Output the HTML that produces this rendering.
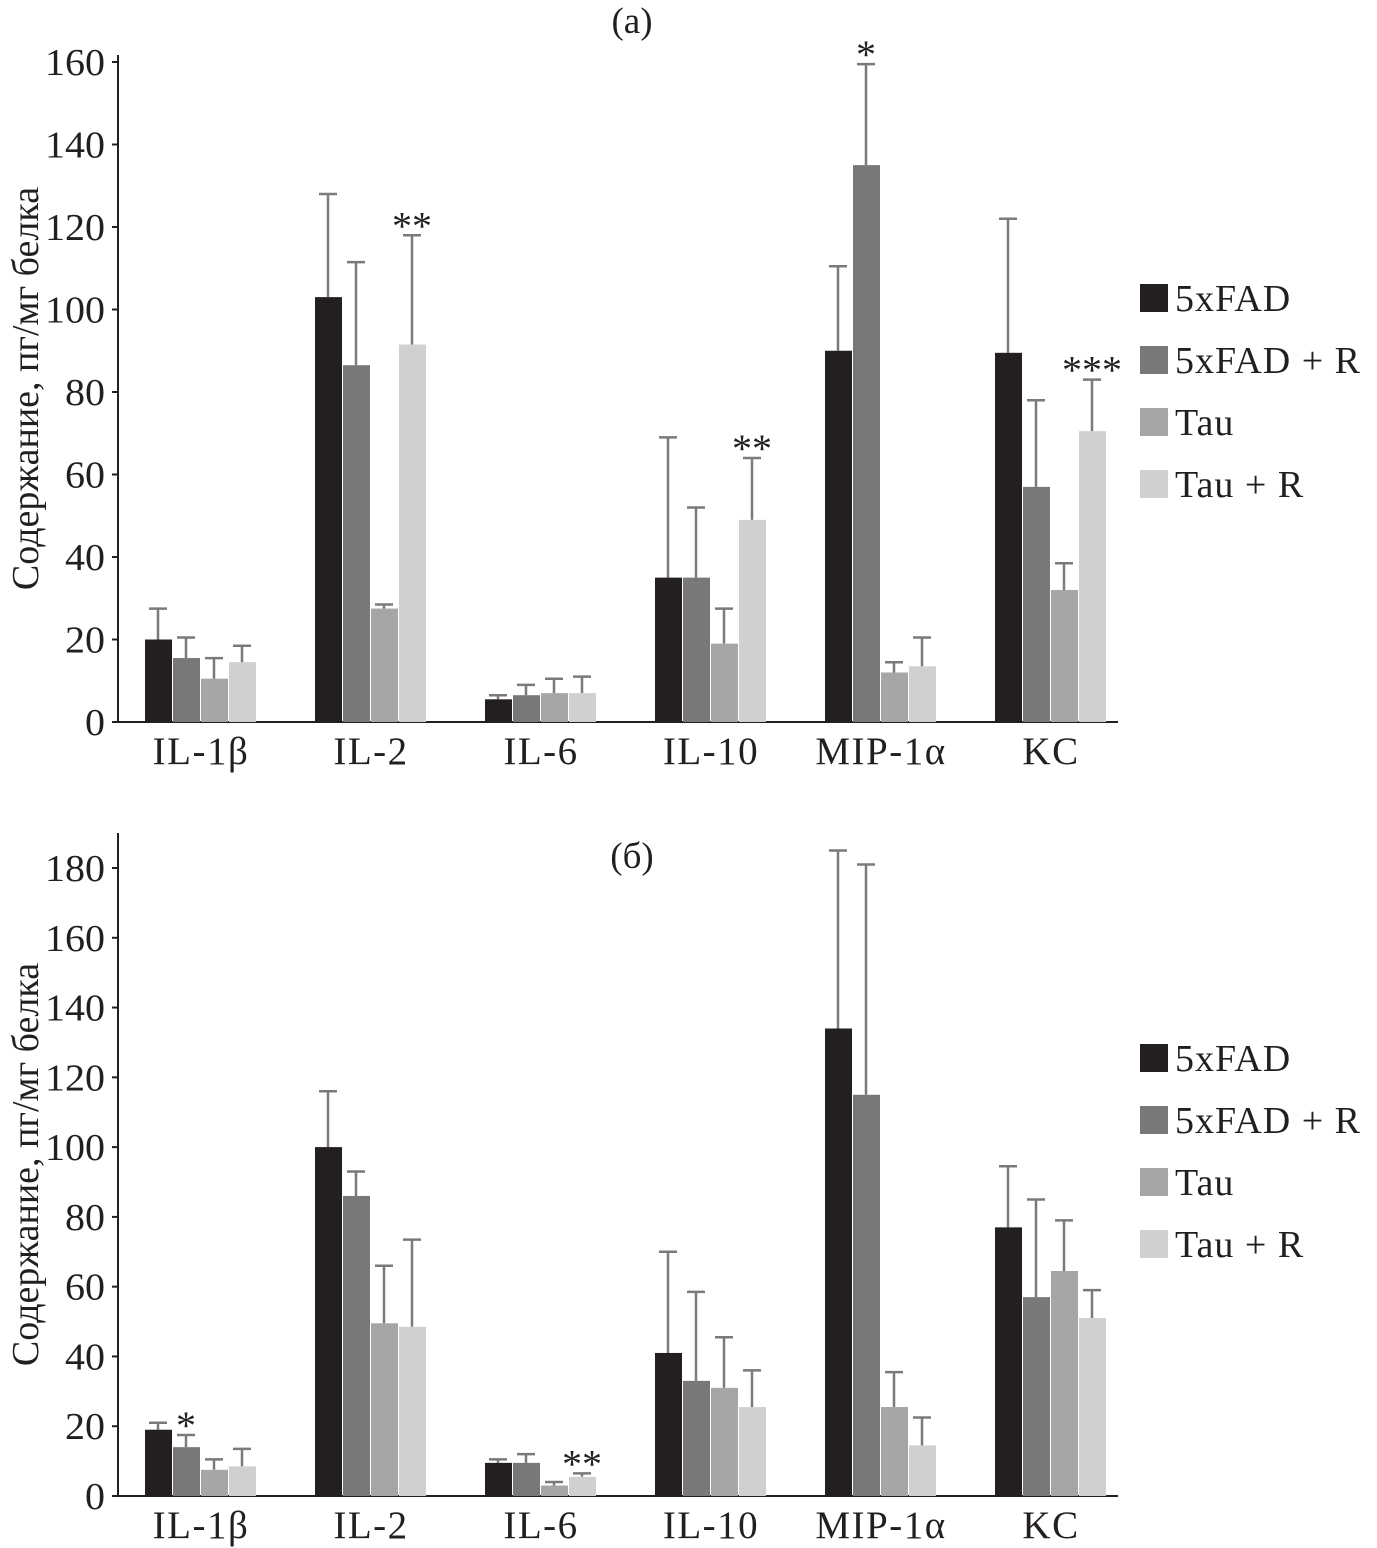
<!DOCTYPE html>
<html><head><meta charset="utf-8"><style>
body{margin:0;background:#fff}
svg{display:block}
text{font-family:"Liberation Serif",serif;fill:#231f20}
</style></head><body>
<svg id="s" width="1377" height="1548"></svg>
<script>
const categories=["IL-1β","IL-2","IL-6","IL-10","MIP-1α","KC"];
const seriesNames=["5xFAD","5xFAD + R","Tau","Tau + R"];
const colors=["#231f20","#787878","#a6a6a8","#d0d0d1"];
const aVals=[[20,103,5.5,35,90,89.5],[15.5,86.5,6.5,35,135,57],[10.5,27.5,7,19,12,32],[14.5,91.5,7,49,13.5,70.5]];
const aErr=[[27.5,128,6.5,69,110.5,122],[20.5,111.5,9,52,159.5,78],[15.5,28.5,10.5,27.5,14.5,38.5],[18.5,118,11,64,20.5,83]];
const aStars=[[1,3,"**"],[3,3,"**"],[4,1,"*"],[5,3,"***"]];
const aTicks=[0,20,40,60,80,100,120,140,160];
const bVals=[[19,100,9.5,41,134,77],[14,86,9.5,33,115,57],[7.5,49.5,3,31,25.5,64.5],[8.5,48.5,5.5,25.5,14.5,51]];
const bErr=[[21,116,10.5,70,185,94.5],[17.5,93,12,58.5,181,85],[10.5,66,4,45.5,35.5,79],[13.5,73.5,6.5,36,22.5,59]];
const bStars=[[0,1,"*"],[2,3,"**"]];
const bTicks=[0,20,40,60,80,100,120,140,160,180];
const NS="http://www.w3.org/2000/svg",S=document.getElementById('s');
function mk(t,a,p){const e=document.createElementNS(NS,t);for(const k in a)e.setAttribute(k,a[k]);(p||S).appendChild(e);return e;}
function panel(id,vals,errs,stars,ticks,y0,yTop,vmax,axisTop,title,titleY,legY){
 const g=mk('g',{});
 
 
 const y=v=>y0-(v/vmax)*(y0-yTop);
 const x=(c,s)=>145+c*170+s*28;
 mk('line',{x1:118,y1:axisTop,x2:118,y2:y0,stroke:'#231f20','stroke-width':2},g);
 mk('line',{x1:118,y1:y0,x2:1118,y2:y0,stroke:'#231f20','stroke-width':2},g);
 ticks.forEach(t=>{
  mk('line',{x1:112,y1:y(t),x2:118,y2:y(t),stroke:'#231f20','stroke-width':2},g);
  const tx=mk('text',{x:105,y:y(t)+13,'text-anchor':'end','font-size':38,'textLength':String(t).length*20,'lengthAdjust':'spacingAndGlyphs'},g);tx.textContent=t;
  
  
 });
 categories.forEach((c,i)=>{
  const tx=mk('text',{x:201+i*170,y:y0+42,'text-anchor':'middle','font-size':39,'letter-spacing':'1.5'},g);tx.textContent=c;
  
  
 });
 vals.forEach((ser,s)=>ser.forEach((v,c)=>{
  const cx=x(c,s)+13;
  const er=mk('line',{x1:cx,y1:y(errs[s][c]),x2:cx,y2:y(v),stroke:'#7a7a7a','stroke-width':2.5},g);
  
  
  mk('line',{x1:cx-9,y1:y(errs[s][c]),x2:cx+9,y2:y(errs[s][c]),stroke:'#7a7a7a','stroke-width':2.5},g);
  const r=mk('rect',{x:x(c,s),y:y(v),width:27,height:y0-y(v),fill:colors[s]},g);
  
  
 }));
 stars.forEach(([c,s,t])=>{
  const tx=mk('text',{x:x(c,s)+13,y:y(errs[s][c])+4,'text-anchor':'middle','font-size':40},g);tx.textContent=t;
  
  
 });
 const tt=mk('text',{x:632,y:titleY,'text-anchor':'middle','font-size':37},g);tt.textContent=title;
 
 
 const yl=mk('text',{x:0,y:0,'text-anchor':'middle','font-size':38,transform:`translate(38,${(axisTop+y0)/2}) rotate(-90)`},g);yl.textContent='Содержание, пг/мг белка';
 
 
 seriesNames.forEach((n,i)=>{
  const r=mk('rect',{x:1140,y:legY+i*62-14,width:28,height:28,fill:colors[i]},g);
  
  
  const tx=mk('text',{x:1175,y:legY+i*62+13,'font-size':38,'letter-spacing':'1'},g);tx.textContent=n;
  
  
 });
}
panel('a',aVals,aErr,aStars,aTicks,722,62,160,55,'(a)',33,298);
panel('b',bVals,bErr,bStars,bTicks,1496,868,180,833,'(б)',868,1058);
</script>
</body></html>
